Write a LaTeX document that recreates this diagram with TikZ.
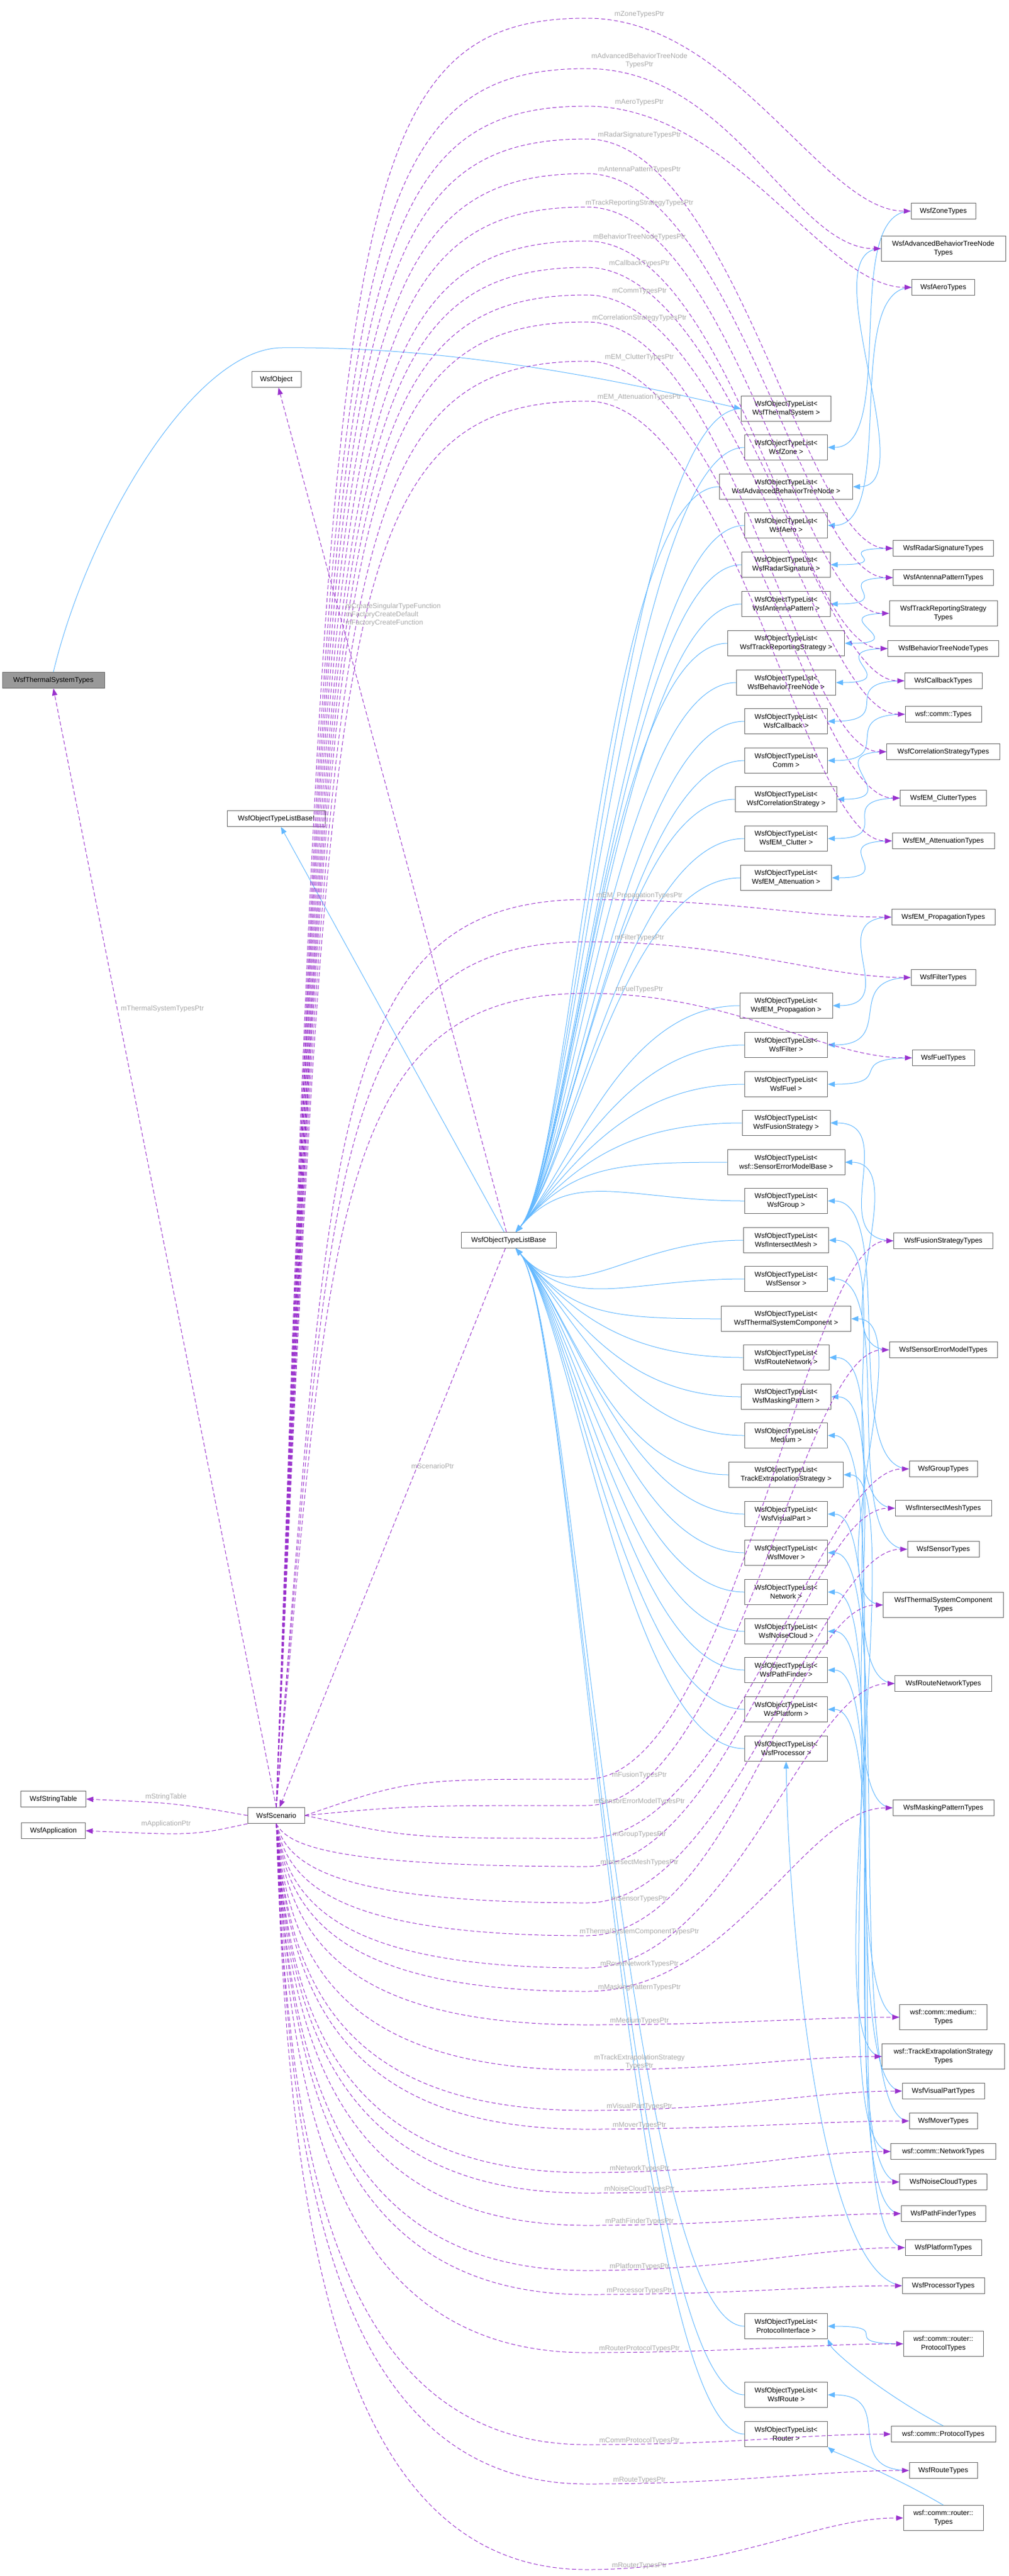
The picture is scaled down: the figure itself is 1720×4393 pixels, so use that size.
\documentclass[tikz,border=0pt]{standalone}
\usepackage{fontspec}
\setmainfont{Liberation Sans}
\usetikzlibrary{arrows.meta,calc}
\definecolor{boxgray}{HTML}{666666}
\definecolor{dpurple}{HTML}{9A32CD}
\definecolor{iblue}{HTML}{63B8FF}
\definecolor{lgray}{HTML}{A8A8A8}
\definecolor{tsfill}{HTML}{999999}
\newcommand\nfont{\fontsize{12}{15}\selectfont}
\newcommand\lfont{\fontsize{12}{14}\selectfont}
\tikzset{
 box/.style={draw=boxgray, fill=white, line width=1pt, inner sep=2pt, minimum height=27pt, align=center, font=\nfont},
 two/.style={minimum height=43pt},
 dep/.style={draw=dpurple, line width=1pt, dash pattern=on 7pt off 4pt, -{Triangle[length=12pt,width=9pt]}},
 inh/.style={draw=iblue, line width=1pt, -{Triangle[length=12pt,width=9pt]}},
 lbl/.style={text=lgray, font=\lfont, inner sep=1pt, align=center}
}
\newcommand\lst[4]{\node[box,two,minimum width=#3pt] (#1) at (1340,#2) {WsfObjectTypeList<\\#4};}
\newcommand\typ[5]{\node[box,minimum width=#3pt,#5] (#1) at (1608,#2) {#4};}
\newcommand\depUp[3]{\draw[dep] (scen.north) .. controls (562,#2+400) and (562,#2) .. (1000,#2) .. controls (1250,#2) and ($(#1.west)+(-150,0)$) .. (#1);
 \node[lbl,anchor=south] at (1090,#2) {#3};}
\newcommand\depR[3]{\draw[dep] (scen.east) .. controls (700,#2) .. (1000,#2) .. controls (1250,#2) and ($(#1.west)+(-150,0)$) .. (#1);
 \node[lbl,anchor=south] at (1090,#2) {#3};}
\newcommand\depDn[3]{\draw[dep] (scen.south) .. controls (490,{(3109+#2)/2}) and (560,#2) .. (1000,#2) .. controls (1250,#2) and ($(#1.west)+(-150,0)$) .. (#1);
 \node[lbl,anchor=south] at (1090,#2) {#3};}
\newcommand\tobA[1]{\draw[inh] (#1.west) .. controls +(-200,0) and (975,1990) .. (base);}
\newcommand\tobB[1]{\draw[inh] (#1.west) .. controls +(-200,0) and (975,2240) .. (base);}
\newcommand\tyl[2]{\draw[inh] (#1.west) .. controls +(-120,0) and +(120,0) .. (#2.east);}
\begin{document}
\begin{tikzpicture}[x=1pt,y=-1pt]
\useasboundingbox (0,0) rectangle (1720,4393);
\node[box,fill=tsfill,minimum width=174pt] (tTS) at (91,1160) {WsfThermalSystemTypes};
\node[box,minimum width=84pt] (obj) at (471,647) {WsfObject};
\node[box,minimum width=167pt] (baseI) at (471,1396) {WsfObjectTypeListBaseI};
\node[box,minimum width=162pt] (base) at (867,2115) {WsfObjectTypeListBase};
\node[box,minimum width=97pt] (scen) at (471,3096) {WsfScenario};
\node[box,minimum width=111pt] (tbl) at (91,3068) {WsfStringTable};
\node[box,minimum width=109pt] (app) at (91,3122) {WsfApplication};
\lst{lTS}{697}{153}{WsfThermalSystem >}
\lst{lZone}{763}{141}{WsfZone >}
\lst{lABTN}{830}{227}{WsfAdvancedBehaviorTreeNode >}
\lst{lAero}{896}{141}{WsfAero >}
\lst{lRS}{963}{151}{WsfRadarSignature >}
\lst{lAP}{1030}{151}{WsfAntennaPattern >}
\lst{lTRS}{1097}{199}{WsfTrackReportingStrategy >}
\lst{lBTN}{1164}{169}{WsfBehaviorTreeNode >}
\lst{lCb}{1230}{141}{WsfCallback >}
\lst{lComm}{1297}{141}{Comm >}
\lst{lCS}{1363}{173}{WsfCorrelationStrategy >}
\lst{lClut}{1430}{141}{WsfEM\_Clutter >}
\lst{lAtt}{1497}{155}{WsfEM\_Attenuation >}
\lst{lProp}{1715}{158}{WsfEM\_Propagation >}
\lst{lFilt}{1782}{141}{WsfFilter >}
\lst{lFuel}{1849}{141}{WsfFuel >}
\lst{lFus}{1915}{150}{WsfFusionStrategy >}
\lst{lSEM}{1982}{200}{wsf::SensorErrorModelBase >}
\lst{lGrp}{2048}{141}{WsfGroup >}
\lst{lIM}{2115}{145}{WsfIntersectMesh >}
\lst{lSen}{2181}{141}{WsfSensor >}
\lst{lTSC}{2249}{221}{WsfThermalSystemComponent >}
\lst{lRN}{2315}{146}{WsfRouteNetwork >}
\lst{lMP}{2382}{153}{WsfMaskingPattern >}
\lst{lMed}{2448}{141}{Medium >}
\lst{lTES}{2515}{195}{TrackExtrapolationStrategy >}
\lst{lVP}{2582}{141}{WsfVisualPart >}
\lst{lMov}{2648}{141}{WsfMover >}
\lst{lNet}{2715}{141}{Network >}
\lst{lNC}{2782}{141}{WsfNoiseCloud >}
\lst{lPF}{2848}{141}{WsfPathFinder >}
\lst{lPlat}{2915}{141}{WsfPlatform >}
\lst{lProc}{2982}{141}{WsfProcessor >}
\lst{lPI}{3967}{141}{ProtocolInterface >}
\lst{lRoute}{4084}{141}{WsfRoute >}
\lst{lRouter}{4151}{141}{Router >}
\typ{tZone}{360}{110}{WsfZoneTypes}{}
\typ{tABTN}{424}{212}{WsfAdvancedBehaviorTreeNode\\Types}{two}
\typ{tAero}{490}{107}{WsfAeroTypes}{}
\typ{tRS}{935}{171}{WsfRadarSignatureTypes}{}
\typ{tAP}{985}{171}{WsfAntennaPatternTypes}{}
\typ{tTRS}{1046}{184}{WsfTrackReportingStrategy\\Types}{two}
\typ{tBTN}{1106}{189}{WsfBehaviorTreeNodeTypes}{}
\typ{tCb}{1161}{132}{WsfCallbackTypes}{}
\typ{tComm}{1218}{130}{wsf::comm::Types}{}
\typ{tCS}{1282}{193}{WsfCorrelationStrategyTypes}{}
\typ{tClut}{1361}{147}{WsfEM\_ClutterTypes}{}
\typ{tAtt}{1434}{174}{WsfEM\_AttenuationTypes}{}
\typ{tProp}{1564}{176}{WsfEM\_PropagationTypes}{}
\typ{tFilt}{1667}{110}{WsfFilterTypes}{}
\typ{tFuel}{1804}{106}{WsfFuelTypes}{}
\typ{tFus}{2116}{169}{WsfFusionStrategyTypes}{}
\typ{tSEM}{2302}{184}{WsfSensorErrorModelTypes}{}
\typ{tGrp}{2505}{116}{WsfGroupTypes}{}
\typ{tIM}{2572}{164}{WsfIntersectMeshTypes}{}
\typ{tSen}{2642}{122}{WsfSensorTypes}{}
\typ{tTSC}{2737}{205}{WsfThermalSystemComponent\\Types}{two}
\typ{tRN}{2871}{165}{WsfRouteNetworkTypes}{}
\typ{tMP}{3083}{172}{WsfMaskingPatternTypes}{}
\typ{tMed}{3440}{149}{wsf::comm::medium::\\Types}{two}
\typ{tTES}{3507}{209}{wsf::TrackExtrapolationStrategy\\Types}{two}
\typ{tVP}{3566}{140}{WsfVisualPartTypes}{}
\typ{tMov}{3617}{116}{WsfMoverTypes}{}
\typ{tNet}{3669}{179}{wsf::comm::NetworkTypes}{}
\typ{tNC}{3721}{149}{WsfNoiseCloudTypes}{}
\typ{tPF}{3775}{144}{WsfPathFinderTypes}{}
\typ{tPlat}{3833}{130}{WsfPlatformTypes}{}
\typ{tProc}{3898}{140}{WsfProcessorTypes}{}
\typ{tRP}{3997}{136}{wsf::comm::router::\\ProtocolTypes}{two}
\typ{tCP}{4151}{178}{wsf::comm::ProtocolTypes}{}
\typ{tRoute}{4213}{116}{WsfRouteTypes}{}
\typ{tRT}{4294}{136}{wsf::comm::router::\\Types}{two}
\foreach \n in {lTS,lZone,lABTN,lAero,lRS,lAP,lTRS,lBTN,lCb,lComm,lCS,lClut,lAtt,lProp,lFilt,lFuel,lFus,lSEM,lGrp}{\tobA{\n}}
\foreach \n in {lIM,lSen,lTSC,lRN,lMP,lMed,lTES,lVP,lMov,lNet,lNC,lPF,lPlat,lProc,lPI,lRoute,lRouter}{\tobB{\n}}
\draw[inh] (base) -- (baseI);
\draw[inh] (tTS.north) .. controls (150,900) and (330,595) .. (480,593) .. controls (800,590) and (1100,660) .. (lTS.west);
\tyl{tZone}{lZone} \tyl{tABTN}{lABTN} \tyl{tAero}{lAero} \tyl{tRS}{lRS} \tyl{tAP}{lAP}
\tyl{tTRS}{lTRS} \tyl{tBTN}{lBTN} \tyl{tCb}{lCb} \tyl{tComm}{lComm} \tyl{tCS}{lCS}
\tyl{tClut}{lClut} \tyl{tAtt}{lAtt} \tyl{tProp}{lProp} \tyl{tFilt}{lFilt} \tyl{tFuel}{lFuel}
\tyl{tFus}{lFus} \tyl{tSEM}{lSEM} \tyl{tGrp}{lGrp} \tyl{tIM}{lIM} \tyl{tSen}{lSen}
\tyl{tTSC}{lTSC} \tyl{tRN}{lRN} \tyl{tMP}{lMP} \tyl{tMed}{lMed} \tyl{tTES}{lTES}
\tyl{tVP}{lVP} \tyl{tMov}{lMov} \tyl{tNet}{lNet} \tyl{tNC}{lNC} \tyl{tPF}{lPF}
\tyl{tPlat}{lPlat} \tyl{tRP}{lPI} \tyl{tRoute}{lRoute}
\draw[inh] (tProc.west) .. controls (1400,3880) and (1345,3300) .. (lProc.south);
\draw[inh] (tCP.north) .. controls (1500,4080) and (1420,4010) .. (lPI.south east);
\draw[inh] (tRT.north) .. controls (1520,4220) and (1420,4180) .. (lRouter.south east);
\depUp{tZone}{31}{mZoneTypesPtr}
\depUp{tABTN}{117}{mAdvancedBehaviorTreeNode\\TypesPtr}
\depUp{tAero}{181}{mAeroTypesPtr}
\depUp{tRS}{237}{mRadarSignatureTypesPtr}
\depUp{tAP}{296}{mAntennaPatternTypesPtr}
\depUp{tTRS}{353}{mTrackReportingStrategyTypesPtr}
\depUp{tBTN}{411}{mBehaviorTreeNodeTypesPtr}
\depUp{tCb}{456}{mCallbackTypesPtr}
\depUp{tComm}{503}{mCommTypesPtr}
\depUp{tCS}{549}{mCorrelationStrategyTypesPtr}
\depUp{tClut}{616}{mEM\_ClutterTypesPtr}
\depUp{tAtt}{684}{mEM\_AttenuationTypesPtr}
\depUp{tProp}{1534}{mEM\_PropagationTypesPtr}
\depUp{tFilt}{1606}{mFilterTypesPtr}
\depUp{tFuel}{1694}{mFuelTypesPtr}
\depR{tFus}{3034}{mFusionTypesPtr}
\depR{tSEM}{3079}{mSensorErrorModelTypesPtr}
\depR{tGrp}{3135}{mGroupTypesPtr}
\depDn{tIM}{3183}{mIntersectMeshTypesPtr}
\depDn{tSen}{3245}{mSensorTypesPtr}
\depDn{tTSC}{3301}{mThermalSystemComponentTypesPtr}
\depDn{tRN}{3356}{mRouteNetworkTypesPtr}
\depDn{tMP}{3396}{mMaskingPatternTypesPtr}
\depDn{tMed}{3453}{mMediumTypesPtr}
\depDn{tTES}{3530}{mTrackExtrapolationStrategy\\TypesPtr}
\depDn{tVP}{3599}{mVisualPartTypesPtr}
\depDn{tMov}{3631}{mMoverTypesPtr}
\depDn{tNet}{3705}{mNetworkTypesPtr}
\depDn{tNC}{3740}{mNoiseCloudTypesPtr}
\depDn{tPF}{3795}{mPathFinderTypesPtr}
\depDn{tPlat}{3872}{mPlatformTypesPtr}
\depDn{tProc}{3913}{mProcessorTypesPtr}
\depDn{tRP}{4012}{mRouterProtocolTypesPtr}
\depDn{tCP}{4169}{mCommProtocolTypesPtr}
\depDn{tRoute}{4236}{mRouteTypesPtr}
\depDn{tRT}{4382}{mRouterTypesPtr}
\draw[dep] (scen.west) .. controls (300,3075) .. (tbl.east);
\node[lbl] at (283,3064) {mStringTable};
\draw[dep] (scen.south west) .. controls (330,3130) .. (app.east);
\node[lbl] at (283,3110) {mApplicationPtr};
\draw[dep] (scen.north) -- (tTS.south);
\node[lbl,anchor=west] at (205,1720) {mThermalSystemTypesPtr};
\draw[dep] (base) -- (scen);
\node[lbl,anchor=west] at (700,2500) {mScenarioPtr};
\draw[dep] (base) -- (obj);
\node[lbl,anchor=west,align=left] at (588,1048) {mCreateSingularTypeFunction\\mFactoryCreateDefault\\mFactoryCreateFunction};
\end{tikzpicture}
\end{document}
